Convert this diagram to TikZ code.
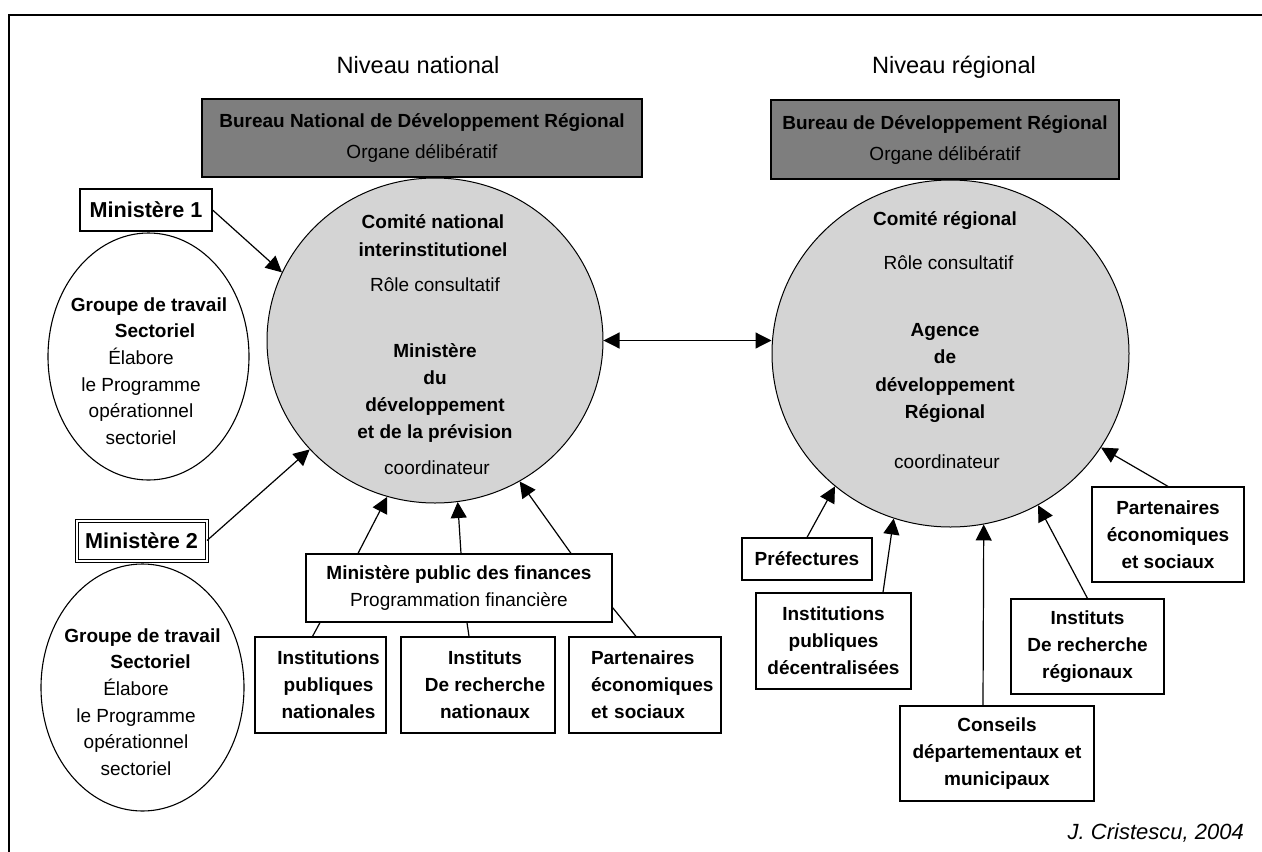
\documentclass[tikz,border=0pt]{standalone}
\usepackage{fontspec}
\setmainfont{Liberation Sans}
\usetikzlibrary{arrows.meta,calc,shapes.geometric}
\newcommand\dgtxt{\fontsize{19pt}{27pt}\selectfont}
\newcommand\dgell{\fontsize{19pt}{26.6pt}\selectfont}
\newcommand\dgmin{\fontsize{21.6pt}{26pt}\selectfont\bfseries}
\definecolor{bureaugray}{RGB}{126,126,126}
\definecolor{circgray}{RGB}{212,212,212}
\tikzset{
  box/.style={draw, line width=1.2pt, fill=white, inner sep=0pt, align=center, font=\dgtxt\bfseries},
  bureau/.style={draw, line width=1.2pt, fill=bureaugray, inner sep=0pt, align=center, font=\dgtxt},
  bigell/.style={draw, ellipse, line width=1pt, fill=circgray, inner sep=0pt},
  smallell/.style={draw, ellipse, line width=1.1pt, fill=white, inner sep=0pt},
  txt/.style={inner sep=0pt, align=center, font=\dgtxt},
  btxt/.style={inner sep=0pt, align=center, font=\dgtxt\bfseries},
  arr/.style={line width=1.2pt, -{Triangle[length=16pt,width=16pt]}},
  dblarr/.style={line width=1.2pt, {Triangle[length=16pt,width=16pt]}-{Triangle[length=16pt,width=16pt]}},
  ln/.style={line width=1.2pt}
}
\begin{document}
\begin{tikzpicture}[x=1pt,y=-1pt]
\useasboundingbox (0,0) rectangle (1262,852);
% frame
\draw[line width=1.6pt] (9,852) -- (9,15) -- (1262,15);

% level titles
\node[inner sep=0pt, font=\fontsize{23.6pt}{28pt}\selectfont] (nivn) at (418,65) {Niveau national};
\node[inner sep=0pt, font=\fontsize{23.6pt}{28pt}\selectfont] (nivr) at (954,67) {Niveau régional};

% big circles
\node[bigell, minimum width=336pt, minimum height=325pt] (natc) at (435,340.5) {};
\node[bigell, minimum width=357pt, minimum height=347pt] (regc) at (950.5,353.5) {};

% bureaus
\node[bureau, minimum width=440pt, minimum height=78pt] (bnat) at (422,138)
  {\textbf{Bureau National de Développement Régional}\\[4pt]Organe délibératif};
\node[bureau, minimum width=348pt, minimum height=79pt] (breg) at (945,139.5)
  {\textbf{Bureau de Développement Régional}\\[4pt]Organe délibératif};

% national circle texts
\node[btxt, font=\fontsize{19pt}{28pt}\selectfont\bfseries] (nc1) at (433,236) {Comité national\\interinstitutionel};
\node[txt] (nc2) at (435,285) {Rôle consultatif};
\node[btxt, font=\fontsize{19pt}{26.7pt}\selectfont\bfseries] (nc3) at (435,393) {Ministère\\du\\développement\\et de la prévision};
\node[txt] (nc4) at (437,468) {coordinateur};

% regional circle texts
\node[btxt] (rc1) at (945,221) {Comité régional};
\node[txt] (rc2) at (948.5,263) {Rôle consultatif};
\node[btxt, font=\fontsize{19pt}{27.3pt}\selectfont\bfseries] (rc3) at (945,373) {Agence\\de\\développement\\Régional};
\node[txt] (rc4) at (947,462) {coordinateur};

% left ellipses
\node[smallell, minimum width=201pt, minimum height=247pt] (g1) at (148.5,356.5) {};
\node[txt, font=\dgell] (g1t) at (141,371)
  {\textbf{\hspace*{16pt}Groupe de travail}\\\textbf{\hspace*{28pt}Sectoriel}\\Élabore\\le Programme\\opérationnel\\sectoriel};
\node[smallell, minimum width=203pt, minimum height=247pt] (g2) at (142.5,687.5) {};
\node[txt, font=\dgell] (g2t) at (136,702)
  {\textbf{\hspace*{13pt}Groupe de travail}\\\textbf{\hspace*{29pt}Sectoriel}\\Élabore\\le Programme\\opérationnel\\sectoriel};

% ministries
\node[box, font=\dgmin, minimum width=132pt, minimum height=42pt] (m1) at (146,210) {Ministère 1};
\node[box, font=\dgmin, double, double distance=2pt, line width=1pt, minimum width=130pt, minimum height=40pt] (m2) at (141.5,540.5) {Ministère 2};

% finance box and national boxes
\node[box, font=\dgtxt, minimum width=306pt, minimum height=68pt] (fin) at (459,588)
  {\textbf{Ministère public des finances}\\Programmation financière};
\node[box, minimum width=131pt, minimum height=96pt] (ipn) at (320.5,685)
  {\hspace*{16pt}Institutions\\\hspace*{16pt}publiques\\\hspace*{16pt}nationales};
\node[box, minimum width=154pt, minimum height=96pt] (irn) at (478,685)
  {\hspace*{14pt}Instituts\\\hspace*{14pt}De recherche\\\hspace*{14pt}nationaux};
\node[box, align=left, text width=108pt, minimum width=152pt, minimum height=96pt] (pes) at (645,685)
  {Partenaires\\économiques\\et sociaux};

% regional boxes
\node[box, minimum width=130pt, minimum height=42pt] (pref) at (807,559) {Préfectures};
\node[box, minimum width=155pt, minimum height=96pt] (ipd) at (833.5,641)
  {Institutions\\publiques\\décentralisées};
\node[box, minimum width=194pt, minimum height=95pt] (cdm) at (997,753.5)
  {Conseils\\départementaux et\\municipaux};
\node[box, minimum width=153pt, minimum height=95pt] (irr) at (1087.5,646.5)
  {Instituts\\De recherche\\régionaux};
\node[box, minimum width=152pt, minimum height=95pt] (per) at (1168,534.5)
  {Partenaires\\économiques\\et sociaux};

% connectors national
\draw[arr] (m1.east) -- (natc.156);
\draw[arr] (m2.east) -- (natc.221);
\draw[arr] ($(fin.north)+(-101,0)$) -- (natc.253);
\draw[arr] ($(fin.north)+(2,0)$) -- (natc.278);
\draw[arr] ($(fin.north)+(112,0)$) -- (natc.301);
\draw[ln] ($(fin.south)+(-139,0)$) -- ($(ipn.north)+(-8,0)$);
\draw[ln] ($(fin.south)+(8,0)$) -- ($(irn.north)+(-9,0)$);
\draw[ln] ($(fin.south east)+(0,-15)$) -- ($(pes.north)+(-9,0)$);

% between levels
\draw[dblarr] (natc.east) -- (regc.west |- natc.east);

% connectors regional
\draw[arr] (pref.north) -- (regc.229);
\draw[arr] ($(ipd.north)+(49.5,0)$) -- (regc.251);
\draw[arr] ($(cdm.north)+(-14,0)$) -- (regc.281);
\draw[arr] (irr.north) -- (regc.300);
\draw[arr] (per.north) -- (regc.328);

% credit
\node[inner sep=0pt, anchor=east, font=\fontsize{22pt}{26pt}\selectfont\itshape] (cred) at (1244,833) {J. Cristescu, 2004};
\end{tikzpicture}
\end{document}
